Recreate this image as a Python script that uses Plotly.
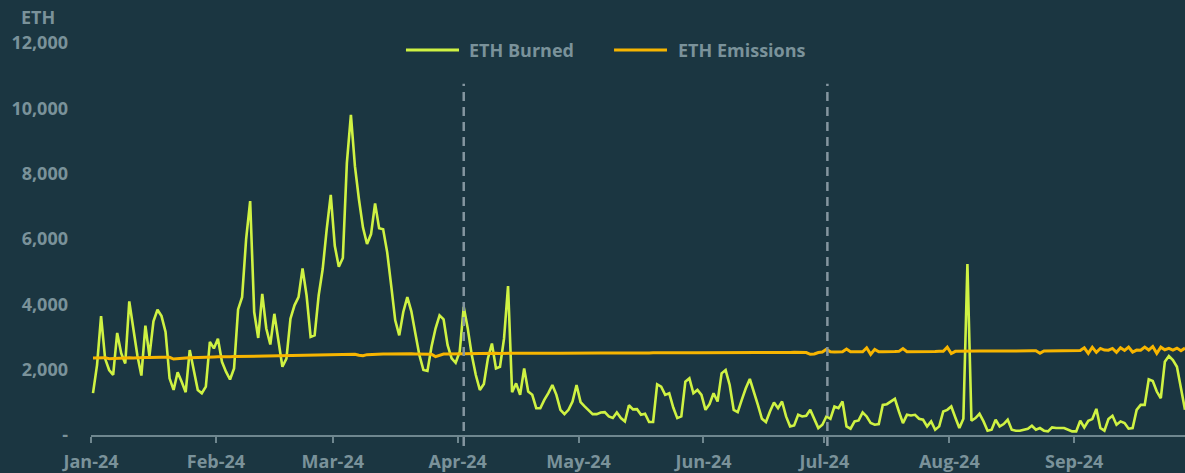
import pandas as pd
import plotly.graph_objects as go

# daily values, 1 Jan 2024 .. 28 Sep 2024
start_date = "2024-01-01 12:00"

eth_burned = [
    1280, 2140, 3640, 2340, 1990, 1840, 3125, 2500, 2190, 4090,
    3260, 2440, 1820, 3350, 2415, 3480, 3835, 3640, 3155, 1735,
    1380, 1920, 1630, 1310, 2600, 1990, 1380, 1280, 1480, 2850,
    2650, 2950, 2240, 1940, 1700, 2040, 3845, 4220, 6000, 7160,
    3765, 2970, 4320, 3260, 2770, 3710, 2950, 2090, 2340, 3560,
    3970, 4220, 5100, 4270, 3000, 3050, 4270, 5080, 6300, 7350,
    5790, 5150, 5420, 8330, 9800, 8230, 7210, 6350, 5845, 6150,
    7090, 6330, 6300, 5600, 4575, 3510, 3050, 3765, 4220, 3785,
    3105, 2445, 1990, 1960, 2700, 3260, 3660, 3540, 2750, 2345,
    2210, 2550, 3920, 3260, 2445, 1835, 1380, 1560, 2345, 2800,
    2040, 2090, 2950, 4560, 1310, 1580, 1230, 2040, 1330, 1230,
    820, 820, 1075, 1280, 1530, 1230, 770, 640, 770, 1025,
    1530, 1005, 875, 770, 640, 640, 690, 700, 570, 520,
    690, 520, 415, 910, 785, 790, 618, 650, 396, 396,
    1552, 1482, 1228, 1278, 842, 517, 568, 1634, 1735, 1278,
    1380, 1228, 770, 943, 1278, 1025, 1887, 1988, 1531, 770,
    700, 1075, 1430, 1714, 1349, 922, 497, 396, 720, 995,
    822, 1025, 568, 264, 294, 618, 568, 588, 770, 497,
    213, 315, 568, 497, 873, 822, 1025, 264, 193, 416,
    446, 690, 568, 365, 315, 335, 922, 943, 1025, 1105,
    720, 365, 618, 598, 618, 497, 467, 264, 416, 162,
    264, 720, 770, 873, 538, 213, 497, 5236, 436, 517,
    650, 416, 132, 162, 467, 264, 335, 467, 162, 132,
    132, 162, 193, 284, 162, 213, 132, 112, 233, 213,
    213, 213, 162, 112, 112, 436, 233, 436, 487, 800,
    213, 132, 487, 588, 315, 416, 365, 193, 213, 770,
    922, 922, 1705, 1654, 1330, 1126, 2243, 2415, 2294, 2090,
    1430, 770,
]

eth_emissions = [
    # Jan
    2360, 2365, 2370, 2368, 2335, 2345, 2350, 2360, 2372, 2365,
    2355, 2368, 2370, 2372, 2375, 2370, 2378, 2380, 2382, 2378,
    2325, 2330, 2350, 2360, 2368, 2375, 2380, 2385, 2382, 2388, 2390,
    # Feb
    2392, 2388, 2395, 2398, 2400, 2402, 2398, 2405, 2408, 2405,
    2410, 2412, 2415, 2412, 2418, 2420, 2422, 2425, 2428, 2430,
    2435, 2438, 2440, 2445, 2448, 2450, 2452, 2455, 2458,
    # Mar
    2460, 2462, 2465, 2468, 2470, 2472, 2440, 2425, 2460, 2470,
    2475, 2478, 2480, 2478, 2482, 2480, 2478, 2480, 2482, 2485,
    2482, 2480, 2485, 2488, 2470, 2400, 2430, 2478, 2482, 2485, 2488,
    # Apr
    2490, 2492, 2488, 2495, 2492, 2490, 2495, 2498, 2495, 2500,
    2498, 2502, 2500, 2498, 2495, 2500, 2505, 2502, 2505, 2500,
    2498, 2502, 2505, 2508, 2505, 2502, 2505, 2508, 2510, 2508,
    # May
    2505, 2508, 2510, 2512, 2508, 2510, 2512, 2510, 2515, 2512,
    2510, 2508, 2512, 2515, 2518, 2515, 2512, 2510, 2515, 2518,
    2520, 2518, 2515, 2512, 2515, 2518, 2520, 2522, 2520, 2518, 2520,
    # Jun
    2522, 2525, 2520, 2518, 2522, 2525, 2528, 2525, 2522, 2520,
    2525, 2528, 2530, 2528, 2525, 2522, 2525, 2528, 2530, 2528,
    2525, 2528, 2530, 2532, 2528, 2525, 2470, 2480, 2525, 2540,
    # Jul
    2625, 2545, 2540, 2545, 2548, 2630, 2550, 2545, 2540, 2548,
    2670, 2470, 2620, 2550, 2548, 2545, 2552, 2555, 2560, 2645,
    2550, 2548, 2550, 2552, 2555, 2560, 2558, 2555, 2560, 2562, 2688,
    # Aug
    2495, 2560, 2565, 2562, 2565, 2568, 2565, 2570, 2568, 2572,
    2570, 2568, 2572, 2575, 2572, 2570, 2575, 2578, 2575, 2572,
    2576, 2578, 2500, 2575, 2578, 2580, 2578, 2582, 2580, 2578, 2582,
    # Sep
    2585, 2590, 2670, 2500, 2685, 2530, 2650, 2600, 2595, 2650,
    2530, 2670, 2590, 2690, 2540, 2600, 2595, 2690, 2600, 2710,
    2500, 2690, 2610, 2650, 2600, 2660, 2580, 2660,
]

y_tickvals = [0, 2000, 4000, 6000, 8000, 10000, 12000]
y_ticktext = ["-", "2,000", "4,000", "6,000", "8,000", "10,000", "12,000"]
quarter_marks = ["2024-04-02 12:00", "2024-07-01 18:00"]
x_range = ["2024-01-01 00:00", "2024-09-28 12:00"]

series_names = ["ETH Burned", "ETH Emissions"]
series_colors = ["#cff243", "#f7b500"]
series_widths = [2.6, 3]

dates = pd.date_range(start_date, periods=len(eth_burned), freq="D")

BG = "#1b3641"
GREY = "#7a929a"
FONT = dict(family="Open Sans", size=18, color=GREY, weight="bold")

fig = go.Figure()
for name, vals, col, w in zip(series_names, [eth_burned, eth_emissions],
                              series_colors, series_widths):
    fig.add_trace(go.Scatter(
        x=dates, y=vals, mode="lines", name=name,
        line=dict(color=col, width=w),
    ))

# dashed quarter separators (paper coords so they can run past the axis line)
t0, t1 = pd.Timestamp(x_range[0]), pd.Timestamp(x_range[1])
for d in quarter_marks:
    px = (pd.Timestamp(d) - t0) / (t1 - t0)
    fig.add_shape(
        type="line", xref="paper", yref="paper",
        x0=px, x1=px, y0=-0.028, y1=0.896,
        line=dict(color="#8596a0", width=2.5, dash="9px,6px"),
    )

# legend drawn by hand to get the long line samples
legend_pos = [(0.2879, 0.3364, 0.3436), (0.4781, 0.5265, 0.5346)]
for (xa, xb, xt), name, col in zip(legend_pos, series_names, series_colors):
    fig.add_shape(
        type="line", xref="paper", yref="paper",
        x0=xa, x1=xb, y0=0.982, y1=0.982,
        line=dict(color=col, width=3),
    )
    fig.add_annotation(
        text=name, xref="paper", yref="paper", x=xt, y=0.982,
        xanchor="left", yanchor="middle", showarrow=False, font=FONT,
    )

fig.add_annotation(
    text="ETH", xref="paper", yref="paper", x=-0.0484, y=1.066,
    xanchor="center", yanchor="middle", showarrow=False, font=FONT,
)

fig.update_layout(
    width=1185, height=473,
    paper_bgcolor=BG, plot_bgcolor=BG,
    margin=dict(l=91, r=0, t=43, b=36),
    font=FONT,
    showlegend=False,
    xaxis=dict(
        range=x_range,
        dtick="M1", tick0="2024-01-01", tickformat="%b-%y",
        showgrid=False, zeroline=False,
        showline=True, linecolor="#6f878f", linewidth=2,
        ticks="outside", ticklen=6, tickwidth=2, tickcolor="#6f878f",
        ticklabelstandoff=3, tickfont=FONT,
    ),
    yaxis=dict(
        range=[0, 12000], tickvals=y_tickvals, ticktext=y_ticktext,
        showgrid=False, zeroline=False, showline=False,
        ticks="", ticklabelstandoff=22, tickfont=FONT,
    ),
)

fig.write_html(
    "out.html",
    config={"displayModeBar": False},
    post_script="document.body.style.margin='0';document.body.style.overflow='hidden';",
)
